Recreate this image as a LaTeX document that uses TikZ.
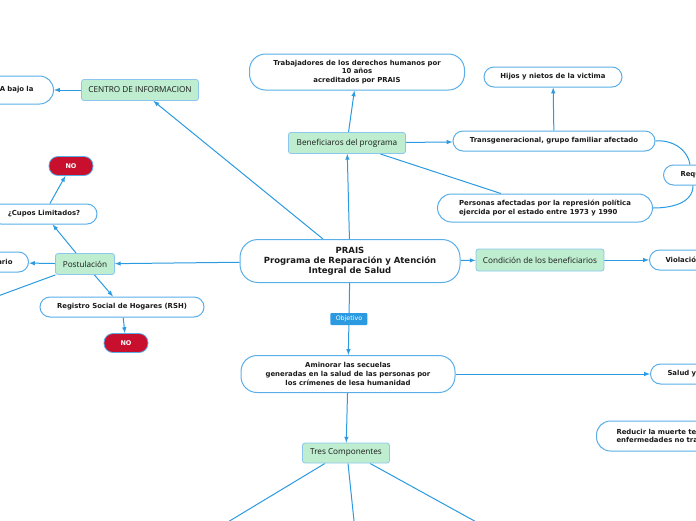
\documentclass[tikz,border=0pt]{standalone}
\usepackage{fontspec}
\setmainfont{DejaVu Sans}
\newfontfamily\branchfont{Open Sans}
\usepackage{tikz}
\pgfdeclarelayer{edgelayer}
\pgfdeclarelayer{nodelayer}
\pgfsetlayers{edgelayer,nodelayer,main}
\definecolor{linkblue}{HTML}{2B9AE0}
\definecolor{boxblue}{HTML}{5AAEE8}
\definecolor{mint}{HTML}{BEEDCF}
\definecolor{nored}{HTML}{C8102E}
\definecolor{ink}{HTML}{1A1A1A}
\tikzstyle{topic}=[rectangle,rounded corners=10pt,fill=white,draw=boxblue,line width=1pt,text=ink,font=\bfseries\fontsize{6.9}{8.8}\selectfont,align=center,minimum height=20pt]
\tikzstyle{branch}=[rectangle,rounded corners=2.5pt,fill=mint,draw=boxblue!70,line width=0.8pt,text=ink,font=\branchfont\fontsize{8.2}{9}\selectfont,minimum height=21pt]
\tikzstyle{answer}=[rectangle,rounded corners=9pt,fill=nored,draw=boxblue,line width=0.8pt,text=white,font=\bfseries\fontsize{6.5}{7}\selectfont,minimum width=44pt,minimum height=19pt]
\tikzstyle{tag}=[rectangle,rounded corners=1pt,fill=linkblue,text=white,font=\fontsize{6.3}{7}\selectfont,minimum width=37pt,minimum height=12pt,inner sep=1pt]
\tikzstyle{transition}=[-latex,draw=linkblue,line width=1pt]
\tikzstyle{link}=[draw=linkblue,line width=1pt]

\begin{document}
\begin{tikzpicture}[x=1pt,y=1pt]
	\useasboundingbox (0, 0) rectangle (696, -520);
	\begin{pgfonlayer}{nodelayer}
		\node [style=topic, rounded corners=18pt, minimum width=220pt, minimum height=43pt, font=\bfseries\fontsize{8.5}{10}\selectfont] (0) at (350, -261) {PRAIS\\Programa de Reparación y Atención\\Integral de Salud};
		\node [style=branch, minimum width=117pt] (1) at (347, -143) {Beneficiaros del programa};
		\node [style=topic, rounded corners=16pt, minimum width=215pt, minimum height=36pt] (2) at (357, -72) {Trabajadores de los derechos humanos por\\10 años\\acreditados por PRAIS};
		\node [style=topic, minimum width=138pt] (3) at (553, -77) {Hijos y nietos de la victima};
		\node [style=topic, minimum width=202pt] (4) at (554, -141) {Transgeneracional, grupo familiar afectado};
		\node [style=topic, anchor=west, text width=100pt, align=left, inner xsep=17pt] (5) at (663, -175) {Requ};
		\node [style=topic, rounded corners=14pt, minimum width=215pt, minimum height=28pt, align=left] (6) at (545, -208) {Personas afectadas por la represión política\\ejercida por el estado entre 1973 y 1990};
		\node [style=branch, minimum width=128pt, minimum height=22pt] (7) at (540, -260) {Condición de los beneficiarios};
		\node [style=topic, anchor=west, text width=100pt, align=left, inner xsep=16pt] (8) at (649, -260) {Violació};
		\node [style=branch, minimum width=117pt] (9) at (140, -90) {CENTRO DE INFORMACION};
		\node [style=topic, rounded corners=14pt, anchor=east, minimum height=28pt, text width=140pt, align=right, inner xsep=20pt] (10) at (54, -90) {A bajo la};
		\node [style=branch, minimum width=59pt] (11) at (85, -264) {Postulación};
		\node [style=topic, anchor=east, text width=100pt, align=right, inner xsep=16pt] (12) at (29, -262) {ario};
		\node [style=topic, minimum width=106pt] (13) at (44, -214) {¿Cupos Limitados?};
		\node [style=answer] (14) at (71, -166) {NO};
		\node [style=topic, minimum width=164pt] (15) at (122, -307) {Registro Social de Hogares (RSH)};
		\node [style=answer] (16) at (126, -343) {NO};
		\node [style=topic, rounded corners=16pt, minimum width=214pt, minimum height=37pt] (17) at (348, -374) {Aminorar las secuelas\\generadas en la salud de las personas por\\los crímenes de lesa humanidad};
		\node [style=topic, anchor=west, text width=100pt, align=left, inner xsep=17pt] (18) at (650, -374) {Salud y};
		\node [style=topic, rounded corners=14pt, anchor=west, minimum height=30pt, text width=120pt, align=left, inner xsep=20pt] (19) at (596, -436) {Reducir la muerte te\\enfermedades no tra};
		\node [style=branch, minimum width=87pt, minimum height=20pt] (20) at (346, -453) {Tres Componentes};
		\coordinate (22) at (-40, -310);
		\coordinate (23) at (198, -540);
		\coordinate (24) at (356, -540);
		\coordinate (25) at (509, -540);
	\end{pgfonlayer}
	\begin{pgfonlayer}{edgelayer}
		\draw [style=transition] (0) to (1);
		\draw [style=transition] (1) to (2);
		\draw [style=transition] (1) to (4);
		\draw [style=link] (1) to (6);
		\draw [style=transition] (4) to (3);
		\draw [style=link, out=5, in=100] (4.east) to ([xshift=27pt]5.north west);
		\draw [style=link, out=0, in=-90] (6.east) to ([xshift=30pt]5.south west);
		\draw [style=transition] (0) to (7);
		\draw [style=transition] (7) to (8);
		\draw [style=transition] (0) to (9);
		\draw [style=transition] (9) to (10);
		\draw [style=transition] (0) to (11);
		\draw [style=transition] (11) to (12);
		\draw [style=transition] (11) to (13);
		\draw [style=transition] (13) to (14);
		\draw [style=transition] (11) to (15);
		\draw [style=transition] (15) to (16);
		\draw [style=link] (11) to (22);
		\draw [style=transition] (0) to node[style=tag, pos=0.5] (21) {Objetivo} (17);
		\draw [style=transition] (17) to (18);
		\draw [style=transition] (17) to (20);
		\draw [style=link] ([xshift=-21pt]20.south) to (23);
		\draw [style=link] ([xshift=2pt]20.south) to (24);
		\draw [style=link] ([xshift=24pt]20.south) to (25);
	\end{pgfonlayer}
\end{tikzpicture}
\end{document}
